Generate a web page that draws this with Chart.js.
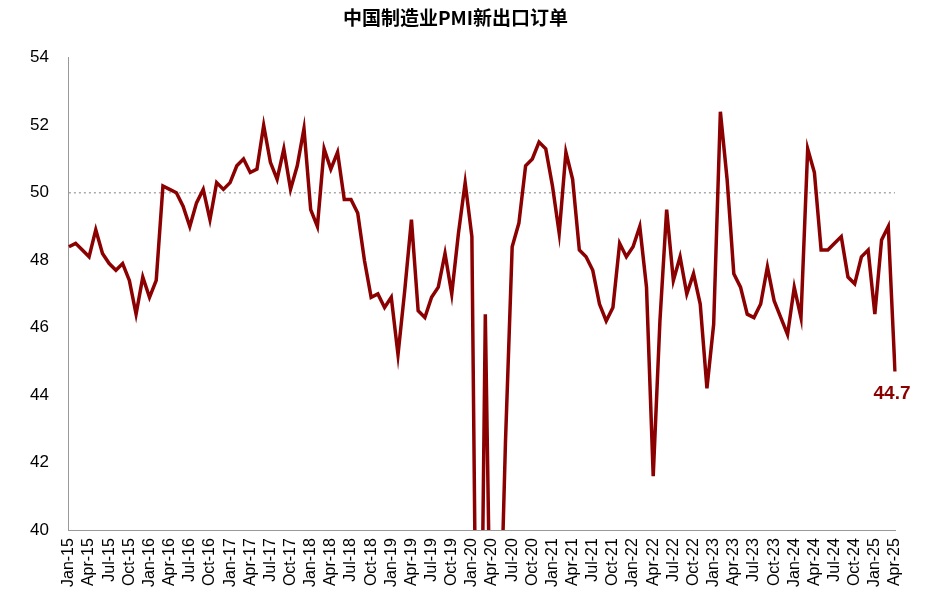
<!DOCTYPE html>
<html><head><meta charset="utf-8">
<script src="https://cdn.jsdelivr.net/npm/chart.js"></script>
<style>body{margin:0;background:#fff}#w{width:932px;height:593px}</style>
</head><body><div id="w"><canvas id="c"></canvas></div>
<script>
const months=["Jan","Feb","Mar","Apr","May","Jun","Jul","Aug","Sep","Oct","Nov","Dec"];
const years=["15","16","17","18","19","20","21","22","23","24","25"];
const categories=[];
years.forEach(y=>months.forEach(m=>categories.push(m+"-"+y)));
categories.length=124;
const exportOrders=[
48.4,48.5,48.3,48.1,48.9,48.2,47.9,47.7,47.9,47.4,46.4,47.5,
46.9,47.4,50.2,50.1,50.0,49.6,49.0,49.7,50.1,49.2,50.3,50.1,
50.3,50.8,51.0,50.6,50.7,52.0,50.9,50.4,51.3,50.1,50.8,51.9,
49.5,49.0,51.3,50.7,51.2,49.8,49.8,49.4,48.0,46.9,47.0,46.6,
46.9,45.2,47.1,49.2,46.5,46.3,46.9,47.2,48.2,47.0,48.8,50.3,
48.7,28.7,46.4,33.5,35.3,42.6,48.4,49.1,50.8,51.0,51.5,51.3,
50.2,48.8,51.2,50.4,48.3,48.1,47.7,46.7,46.2,46.6,48.5,48.1,
48.4,49.0,47.2,41.6,46.2,49.5,47.4,48.1,47.0,47.6,46.7,44.2,
46.1,52.4,50.4,47.6,47.2,46.4,46.3,46.7,47.8,46.8,46.3,45.8,
47.2,46.3,51.3,50.6,48.3,48.3,48.5,48.7,47.5,47.3,48.1,48.3,
46.4,48.6,49.0,44.7];
const refLine=categories.map(()=>50);
const yTicks=[40,42,44,46,48,50,52,54];
const F="'Liberation Sans', Arial, sans-serif";
const lastLabel={id:'lastLabel',afterDatasetsDraw(ch){
 const m=ch.getDatasetMeta(0),p=m.data[m.data.length-1],ctx=ch.ctx;
 ctx.save();ctx.font="bold 19px "+F;ctx.fillStyle="#8B0000";ctx.textAlign="center";ctx.textBaseline="top";
 ctx.fillText(exportOrders[exportOrders.length-1].toFixed(1),p.x-3,p.y+13);ctx.restore();}};
new Chart(document.getElementById('c'),{
 type:'line',
 data:{labels:categories,datasets:[
  {data:exportOrders,borderColor:'#8B0000',borderWidth:3.5,pointRadius:0,tension:0},
  {data:refLine,borderColor:'#aaaaaa',borderWidth:1.5,borderDash:[2,3],pointRadius:0}]},
 options:{responsive:true,maintainAspectRatio:false,animation:false,
  layout:{padding:{left:16,right:37,top:4,bottom:2}},
  plugins:{legend:{display:false},tooltip:{enabled:false},
   title:{display:true,text:'中国制造业PMI新出口订单',font:{family:"'Noto Sans CJK SC'",size:19,weight:'bold'},color:'#000',padding:{top:2,bottom:29}}},
  scales:{
   x:{offset:false,grid:{display:false,drawTicks:true,tickLength:4},border:{color:'#999'},
    ticks:{autoSkip:false,maxRotation:90,minRotation:90,color:'#000',font:{family:F,size:16},padding:4,
     callback:(v,i)=>i%3===0?categories[i]:''}},
   y:{min:40,max:54,afterBuildTicks:a=>{a.ticks=yTicks.map(v=>({value:v}));},
    grid:{display:false,tickLength:6},border:{color:'#999'},
    ticks:{color:'#000',font:{family:F,size:17},padding:14}}}},
 plugins:[lastLabel]});
</script></body></html>
